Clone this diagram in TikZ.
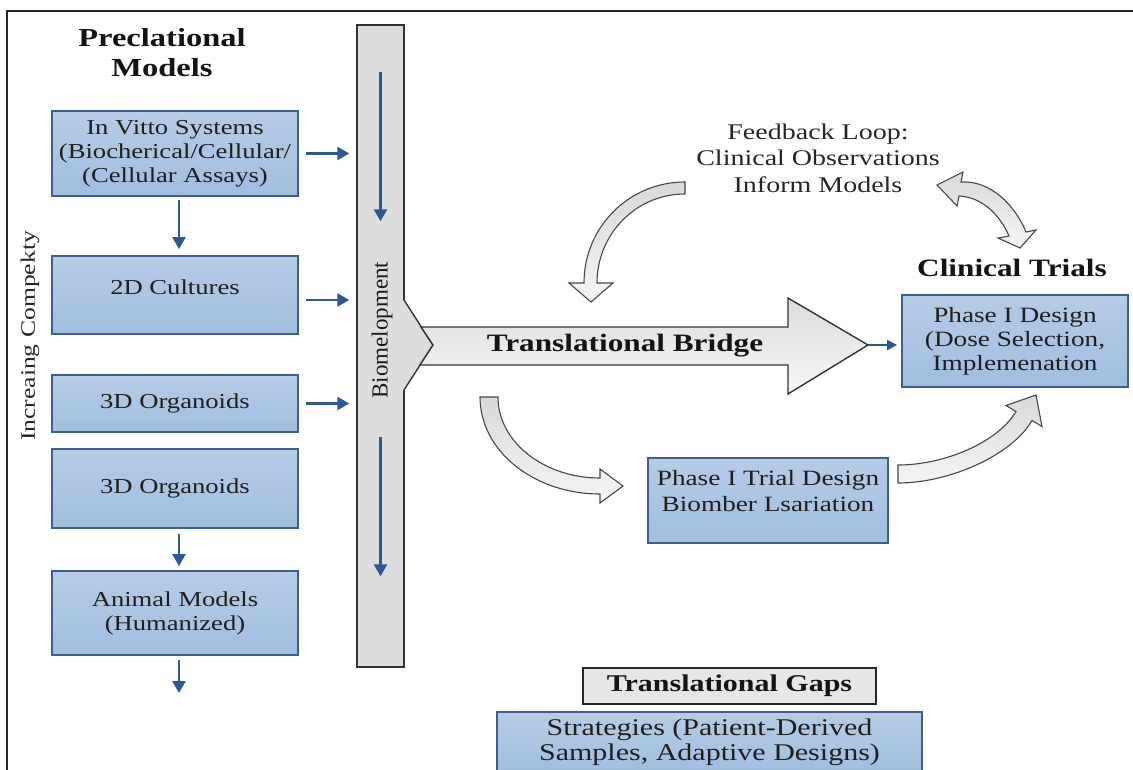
\documentclass[tikz,border=0pt]{standalone}
\usepackage{fontspec}
\setmainfont[FakeStretch=1.25]{Liberation Serif}
\newfontfamily\plainserif{Liberation Serif}
\usetikzlibrary{arrows.meta}
\definecolor{boxtop}{RGB}{182,204,231}
\definecolor{boxbot}{RGB}{160,189,223}
\definecolor{boxline}{RGB}{62,95,140}
\definecolor{arrblue}{RGB}{46,88,148}
\definecolor{bargray}{RGB}{221,221,221}
\definecolor{gapgray}{RGB}{230,230,230}
\begin{document}
\begin{tikzpicture}[x=1pt,y=-1pt,
  box/.style={draw=boxline, line width=1.8pt, top color=boxtop, bottom color=boxbot,
    inner sep=0pt, align=center, text=black!88, font=\fontsize{21.3}{24}\selectfont},
  arr/.style={draw=arrblue, line width=2.5pt, -{Triangle[length=12pt,width=13pt]}},
  fat/.style={draw=black!72, line width=1.1pt, top color=gray!30, bottom color=gray!8},
  barstyle/.style={draw=black!80, line width=1.4pt, fill=bargray},
  title/.style={font=\fontsize{25}{29}\selectfont\bfseries, align=center, text=black!92}]
\useasboundingbox (0,0) rectangle (1133,769);
\clip (0,0) rectangle (1133,769);
\fill[white] (0,0) rectangle (1133,769);
% frame
\draw[line width=1.6pt, black!85] (7,800) -- (7,11) -- (1140,11);

% left column
\node[title, font=\fontsize{26}{30}\selectfont\bfseries] (pre) at (162,53) {Preclational\\Models};
\node[box, minimum width=246pt, minimum height=85pt] (b1) at (175,153.5)
  {In Vitto Systems\\(Biocherical/Cellular/\\(Cellular Assays)};
\node[box, minimum width=246pt, minimum height=78pt, text depth=16pt] (b2) at (175,295) {2D Cultures};
\node[box, minimum width=246pt, minimum height=57pt] (b3) at (175,403.5) {3D Organoids};
\node[box, minimum width=246pt, minimum height=79pt] (b4) at (175,488.5) {3D Organoids};
\node[box, minimum width=246pt, minimum height=84pt] (b5) at (175,613) {Animal Models\\(Humanized)};
\coordinate (b5end) at (179,693);

\draw[arr, shorten <=3pt, shorten >=6pt] ([xshift=4pt]b1.south) -- ([xshift=4pt]b2.north);
\draw[arr, shorten <=5pt, shorten >=4pt] ([xshift=4pt]b4.south) -- ([xshift=4pt]b5.north);
\draw[arr, shorten <=4pt] ([xshift=4pt]b5.south) -- (b5end);

\node[rotate=90, font=\fontsize{20.5}{24}\selectfont, text=black!85] (inc) at (30,336) {Increaing Compekty};

% vertical bar
\node[barstyle, minimum width=47pt, minimum height=642pt, inner sep=0pt] (bar) at (380.5,346) {};
\fill[bargray] (401,300) -- (404,300) -- (433,345) -- (404,390) -- (401,390) -- cycle;
\draw[black!80, line width=1.4pt] (404,300) -- (433,345) -- (404,390);
\node[rotate=90, font=\plainserif\fontsize{23}{26}\selectfont, text=black!90] (barlbl) at (382,330) {Biomelopment};
\draw[arr] ([yshift=-48pt]bar.north) -- ([yshift=-197pt]bar.north);
\draw[arr] ([yshift=-413pt]bar.north) -- ([yshift=-552pt]bar.north);

\draw[arr, shorten <=7pt, shorten >=7pt] (b1.east) -- (b1.east -| bar.west);
\draw[arr, shorten <=7pt, shorten >=7pt] ([yshift=-5pt]b2.east) -- ([yshift=-5pt]b2.east -| bar.west);
\draw[arr, shorten <=7pt, shorten >=7pt] (b3.east) -- (b3.east -| bar.west);

% translational bridge
\draw[black!80, line width=1.4pt, top color=gray!28, bottom color=gray!6]
  (421,327) -- (788,327) -- (788,298) -- (868,345) -- (788,394) -- (788,365) -- (420,365) -- (433,345) -- cycle;
\coordinate (bridgetip) at (868,345);
\node[title] (bridge) at (625,346) {Translational Bridge};

% clinical trials
\node[title] (ct) at (1012,268) {Clinical Trials};
\node[box, minimum width=226pt, minimum height=92pt, font=\fontsize{21.8}{24}\selectfont] (pd) at (1015,341)
  {Phase I Design\\(Dose Selection,\\Implemenation};
\draw[arr, line width=2pt, -{Triangle[length=10pt,width=10pt]}, shorten >=4pt] (bridgetip) -- (pd.west |- bridgetip);

% feedback
\node[align=center, font=\fontsize{22.4}{26.5}\selectfont, text=black!85] (fb) at (818,158)
  {Feedback Loop:\\Clinical Observations\\Inform Models};

% fat curved arrows
\draw[fat] (685,182) .. controls (629,182) and (584,227) .. (584,283) -- (569,283) -- (591,302)
  -- (613,283) -- (597,283) .. controls (597,234) and (636,194) .. (685,194) -- cycle;
\draw[fat] (498,397) -- (480,397) .. controls (480,451) and (534,494) .. (600,494) -- (600,503)
  -- (623,486) -- (600,469) -- (600,478) .. controls (544,478) and (498,442) .. (498,397) -- cycle;
\draw[fat] (898,465) -- (898,483) .. controls (950,483) and (1012,455) .. (1032,420.5) -- (1042,426.5)
  -- (1036,395) -- (1006,405.5) -- (1016,411.5) .. controls (998,442) and (945,465) .. (898,465) -- cycle;
\draw[fat] (961,182) .. controls (990,180) and (1015,205) .. (1026,232) -- (1036,230) -- (1020,248)
  -- (998,238) -- (1009,236) .. controls (1000,215) and (982,197) .. (959,196) -- (957,206)
  -- (937,185) -- (963,172) -- cycle;

% phase I trial
\node[box, minimum width=240pt, minimum height=85pt, font=\fontsize{21.8}{26}\selectfont, text depth=20pt] (pt) at (768,500.5)
  {Phase I Trial Design\\Biomber Lsariation};

% gaps
\node[draw=black!85, line width=1.6pt, fill=gapgray, minimum width=293pt, minimum height=36pt, inner sep=0pt,
  font=\fontsize{24}{27}\selectfont\bfseries, text=black!92] (gaps) at (729.5,686) {Translational Gaps};
\node[box, anchor=north, minimum width=425pt, inner ysep=7pt, font=\fontsize{24}{25}\selectfont] (strat) at (709.5,711)
  {Strategies (Patient-Derived\\Samples, Adaptive Designs)};
\end{tikzpicture}
\end{document}
